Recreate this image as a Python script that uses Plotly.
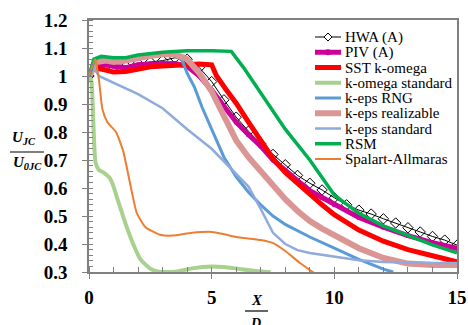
import plotly.graph_objects as go

# ---------------- data ----------------
hwa_x = [0, 0.5, 1.0, 1.5, 2.0, 2.5, 3.0, 3.5, 4.0, 4.5, 5.0, 5.5, 6.0, 6.5, 7.0, 7.5, 8.0, 8.5, 9.0, 9.5,
         10.0, 10.5, 11.0, 11.5, 12.0, 12.5, 13.0, 13.5, 14.0, 14.5, 15.0]
hwa_y = [1.0, 1.04, 1.03, 1.035, 1.045, 1.05, 1.055, 1.065, 1.06, 1.03, 0.98, 0.915, 0.853, 0.803, 0.758, 0.72,
         0.683, 0.645, 0.617, 0.593, 0.565, 0.54, 0.521, 0.507, 0.49, 0.475, 0.458, 0.443, 0.427, 0.414, 0.396]

piv_x = [0.2, 0.5, 1.0, 1.5, 2.0, 2.5, 3.0, 3.5, 4.0, 4.5, 5.0, 5.5, 6.0, 6.5, 7.0, 7.5, 8.0, 8.5, 9.0, 9.5,
         10, 11, 12, 13, 14, 15]
piv_y = [1.045, 1.04, 1.035, 1.03, 1.04, 1.043, 1.046, 1.045, 1.035, 1.0, 0.95, 0.89, 0.835, 0.79, 0.75, 0.70,
         0.66, 0.626, 0.59, 0.565, 0.54, 0.495, 0.46, 0.43, 0.405, 0.385]

sst_x = [0, 0.2, 0.5, 1.0, 1.5, 2.0, 2.5, 3.0, 3.5, 4.0, 4.5, 5.0, 5.2, 5.6, 6.0, 6.5, 7.0, 7.5, 8.0, 8.5, 9.0,
         9.5, 10, 11, 12, 13, 14, 15]
sst_y = [1.0, 1.028, 1.025, 1.014, 1.016, 1.025, 1.033, 1.036, 1.039, 1.041, 1.043, 1.04, 1.0, 0.95, 0.903,
         0.835, 0.768, 0.705, 0.655, 0.615, 0.575, 0.54, 0.505, 0.45, 0.41, 0.38, 0.358, 0.336]

kws_x = [0, 0.1, 0.15, 0.2, 0.27, 0.4, 0.6, 0.85, 1.0, 1.2, 1.5, 1.8, 2.1, 2.5, 2.8, 3.2, 3.6, 4.2, 5.0, 5.5,
         6.2, 7.0, 7.4]
kws_y = [1.0, 0.98, 0.9, 0.78, 0.69, 0.665, 0.655, 0.635, 0.605, 0.55, 0.47, 0.4, 0.345, 0.312, 0.302, 0.3,
         0.302, 0.313, 0.32, 0.318, 0.31, 0.302, 0.3]

rng_x = [0, 0.3, 1.0, 1.5, 2.0, 3.0, 3.5, 3.8, 4.0, 4.3, 4.6, 5.0, 5.5, 6.0, 6.5, 7.0, 7.5, 8.0, 8.5, 9.0, 10,
         11, 12, 12.4]
rng_y = [1.0, 1.06, 1.065, 1.06, 1.07, 1.078, 1.075, 1.055, 1.01, 0.96, 0.89, 0.81, 0.71, 0.64, 0.585, 0.54,
         0.5, 0.47, 0.447, 0.425, 0.385, 0.345, 0.31, 0.3]

rlz_x = [0, 0.3, 0.7, 1.0, 1.5, 2.0, 2.5, 3.0, 3.5, 4.0, 4.5, 5.0, 5.5, 6.0, 6.5, 7.0, 7.5, 8.0, 8.5, 9.0,
         9.5, 10, 11, 12, 13, 14, 15]
rlz_y = [1.0, 1.05, 1.055, 1.05, 1.055, 1.065, 1.072, 1.078, 1.078, 1.06, 1.01, 0.945, 0.86, 0.77, 0.71, 0.66,
         0.605, 0.56, 0.518, 0.482, 0.455, 0.43, 0.385, 0.35, 0.33, 0.325, 0.325]

kes_x = [0, 0.2, 0.4, 1.0, 2.0, 3.0, 4.0, 5.0, 6.0, 6.5, 7.0, 7.5, 8.0, 8.5, 9.0, 10, 11, 12, 13, 14, 15]
kes_y = [1.0, 1.03, 1.0, 0.975, 0.935, 0.885, 0.81, 0.74, 0.65, 0.605, 0.525, 0.44, 0.4, 0.378, 0.368, 0.354,
         0.342, 0.336, 0.333, 0.332, 0.332]

rsm_x = [0, 0.2, 0.5, 1.0, 1.5, 2.0, 3.0, 4.0, 5.0, 5.8, 6.3, 7.0, 8.0, 9.0, 10.0, 10.3, 11, 12, 13, 14, 15]
rsm_y = [1.0, 1.06, 1.07, 1.065, 1.065, 1.075, 1.085, 1.09, 1.09, 1.088, 1.03, 0.94, 0.81, 0.70, 0.575, 0.555,
         0.51, 0.465, 0.43, 0.397, 0.368]

sa_x = [0, 0.25, 0.4, 0.55, 0.75, 1.1, 1.4, 1.7, 1.95, 2.3, 2.9, 3.4, 4.2, 5.0, 5.5, 6.0, 7.0, 7.5, 8.0, 8.6, 9.2]
sa_y = [1.0, 1.06, 0.99, 0.88, 0.835, 0.8, 0.73, 0.605, 0.51, 0.46, 0.433, 0.43, 0.44, 0.443, 0.435, 0.425,
        0.414, 0.403, 0.375, 0.332, 0.295]

series_names = ["HWA (A)", "PIV (A)", "SST k-omega", "k-omega standard", "k-eps RNG",
                "k-eps realizable", "k-eps standard", "RSM", "Spalart-Allmaras"]

y_ticks = [0.3, 0.4, 0.5, 0.6, 0.7, 0.8, 0.9, 1.0, 1.1, 1.2]
y_tick_text = ["0.3", "0.4", "0.5", "0.6", "0.7", "0.8", "0.9", "1", "1.1", "1.2"]
x_ticks = [0, 5, 10, 15]
x_tick_text = ["0", "5", "10", "15"]

# ---------------- styles ----------------
SERIF = "Liberation Serif, Times New Roman, serif"
W, H = 468, 325
ML, MR, MT, MB = 89, 11, 20, 53
PW, PH = W - ML - MR, H - MT - MB

styles = [
    dict(color="black", width=1, marker="diamond"),
    dict(color="#CC0099", width=5, marker="circle"),
    dict(color="#FF0000", width=5, marker=None),
    dict(color="#A9D18E", width=4, marker=None),
    dict(color="#5B9BD5", width=3, marker=None),
    dict(color="#D99694", width=6, marker=None),
    dict(color="#8FAADC", width=2.5, marker=None),
    dict(color="#00B050", width=3.5, marker=None),
    dict(color="#ED7D31", width=2, marker=None),
]
series = [(hwa_x, hwa_y), (piv_x, piv_y), (sst_x, sst_y), (kws_x, kws_y), (rng_x, rng_y),
          (rlz_x, rlz_y), (kes_x, kes_y), (rsm_x, rsm_y), (sa_x, sa_y)]
smooth = {3: 0.6, 8: 0.5}

fig = go.Figure()
for i, ((xs, ys), name, st) in enumerate(zip(series, series_names, styles)):
    line = dict(color=st["color"], width=st["width"])
    if i in smooth:
        line.update(shape="spline", smoothing=smooth[i])
    kw = dict(mode="lines")
    if st["marker"] == "diamond":
        kw = dict(mode="lines+markers",
                  marker=dict(symbol="diamond-open", size=8, color="black", line=dict(width=1)))
    elif st["marker"] == "circle":
        kw = dict(mode="lines+markers", marker=dict(symbol="circle", size=5, color=st["color"]))
    fig.add_trace(go.Scatter(x=xs, y=ys, name=name, line=line, showlegend=False, **kw))

axis_common = dict(showline=True, linecolor="#808080", linewidth=1.5, mirror=True, automargin=False,
                   showgrid=False, zeroline=False, ticks="outside", tickcolor="#808080",
                   tickwidth=1.2, ticklen=5,
                   tickfont=dict(family=SERIF, size=19, color="black", weight="bold"))

fig.update_xaxes(range=[0, 15], tickvals=x_ticks, ticktext=x_tick_text, ticklabelstandoff=2,
                 minor=dict(ticks="inside", dtick=1, ticklen=5, tickcolor="#808080", tickwidth=1.2),
                 **axis_common)
fig.update_yaxes(range=[0.3, 1.2], tickvals=y_ticks, ticktext=y_tick_text, ticklabelstandoff=11,
                 minor=dict(ticks="inside", dtick=0.02, tick0=0.3, ticklen=4, tickcolor="#808080", tickwidth=1.2),
                 **axis_common)

fig.update_layout(width=W, height=H, margin=dict(l=ML, r=MR, t=MT, b=MB),
                  font=dict(family=SERIF, color="black"),
                  paper_bgcolor="white", plot_bgcolor="white", showlegend=False)


def px2paper(px, py):
    return (px - ML) / PW, (H - MB - py) / PH


# ---------------- legend (compact, Excel-like spacing) ----------------
LEG_X0, LEG_X1, LEG_TXT, LEG_Y0, LEG_DY = 315, 341, 343, 37, 15.25
for i, (name, st) in enumerate(zip(series_names, styles)):
    py = LEG_Y0 + i * LEG_DY
    x0, y = px2paper(LEG_X0, py)
    x1, _ = px2paper(LEG_X1, py)
    fig.add_shape(type="line", xref="paper", yref="paper", x0=x0, x1=x1, y0=y, y1=y,
                  line=dict(color=st["color"], width=st["width"]))
    xc = (x0 + x1) / 2
    if st["marker"] == "diamond":
        dx, dy = 4 / PW, 4 / PH
        fig.add_shape(type="path", xref="paper", yref="paper",
                      path=f"M {xc-dx},{y} L {xc},{y+dy} L {xc+dx},{y} L {xc},{y-dy} Z",
                      fillcolor="white", line=dict(color="black", width=1))
    elif st["marker"] == "circle":
        dx, dy = 3 / PW, 3 / PH
        fig.add_shape(type="circle", xref="paper", yref="paper", x0=xc - dx, x1=xc + dx,
                      y0=y - dy, y1=y + dy, fillcolor=st["color"], line=dict(width=0))
    tx, _ = px2paper(LEG_TXT, py)
    fig.add_annotation(xref="paper", yref="paper", x=tx, y=y, xanchor="left", yanchor="middle",
                       showarrow=False, text=name, font=dict(family=SERIF, size=15, color="black"))

# ---------------- axis titles as stacked fractions ----------------
title_font = dict(family=SERIF, size=15, color="black")
ax, ay = px2paper(24, 138)
fig.add_annotation(xref="paper", yref="paper", x=ax, y=ay, showarrow=False,
                   text="<b><i>U</i></b><sub><b><i>JC</i></b></sub>", font=title_font,
                   xanchor="center", yanchor="middle")
ax, ay = px2paper(27, 163)
fig.add_annotation(xref="paper", yref="paper", x=ax, y=ay, showarrow=False,
                   text="<b><i>U</i></b><sub><b><i>0JC</i></b></sub>", font=title_font,
                   xanchor="center", yanchor="middle")
lx0, ly = px2paper(10, 152)
lx1, _ = px2paper(44, 152)
fig.add_shape(type="line", xref="paper", yref="paper", x0=lx0, x1=lx1, y0=ly, y1=ly,
              line=dict(color="black", width=1.2))

ax, ay = px2paper(257, 300)
fig.add_annotation(xref="paper", yref="paper", x=ax, y=ay, showarrow=False,
                   text="<b><i>X</i></b>", font=title_font, xanchor="center", yanchor="middle")
lx0, ly = px2paper(245, 311)
lx1, _ = px2paper(268, 311)
fig.add_shape(type="line", xref="paper", yref="paper", x0=lx0, x1=lx1, y0=ly, y1=ly,
              line=dict(color="black", width=1.2))
ax, ay = px2paper(258, 314)
fig.add_annotation(xref="paper", yref="paper", x=ax, y=ay, showarrow=False,
                   text="<b><i>D</i></b><sub><b><i>e</i></b></sub>", font=dict(family=SERIF, size=14, color="black"),
                   xanchor="center", yanchor="top")

fig.write_html("out.html", config={"displayModeBar": False})

# remove the browser's default page margin so the 468x325 figure fills the window exactly
with open("out.html", encoding="utf-8") as f:
    html = f.read()
html = html.replace("<head>", "<head><style>html,body{margin:0;padding:0;overflow:hidden;}</style>", 1)
with open("out.html", "w", encoding="utf-8") as f:
    f.write(html)
